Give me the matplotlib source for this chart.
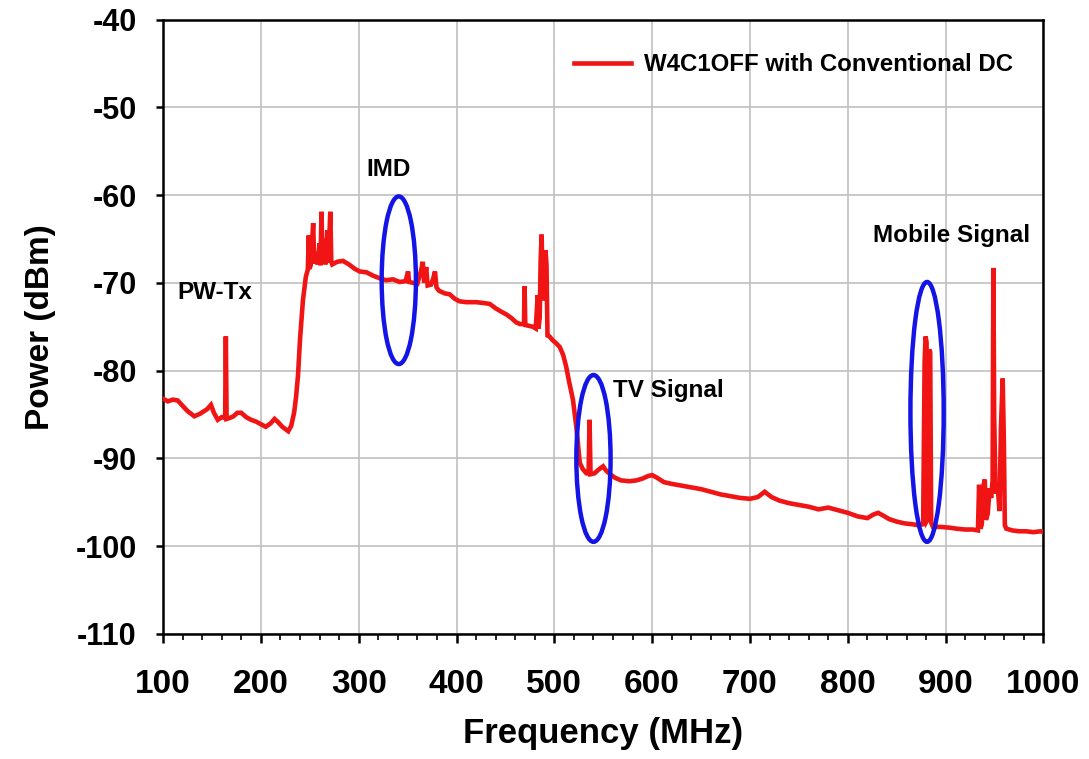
import matplotlib
matplotlib.use("Agg")
import matplotlib.pyplot as plt
from matplotlib.patches import Ellipse
from matplotlib.ticker import MultipleLocator

plt.rcParams['font.family'] = ['Liberation Sans', 'DejaVu Sans']
plt.rcParams['font.weight'] = 'bold'
plt.rcParams['axes.unicode_minus'] = False

# ---- data ----
freq_mhz = [100, 105, 110, 115, 120, 125, 132, 138, 145, 149, 152, 156, 160, 163.5, 164.2, 165,
            168, 172, 176, 180, 185, 190, 195, 200, 205, 210, 214, 217, 222, 228, 231, 234, 236,
            238, 240, 243, 246, 248, 249, 249.5, 251, 253.5, 254.5, 256, 258, 260, 261, 262, 263,
            265, 266, 268, 269, 271, 272, 273, 278, 284, 290, 296, 301, 308, 315, 322, 328, 335,
            342, 348, 350.5, 351.5, 356, 360, 364, 365.5, 367, 369, 370.5, 374, 376, 378, 379.5,
            382, 388, 393, 398, 403, 410, 420, 428, 434, 440, 446, 451, 456, 461, 465, 469, 469.6,
            470.3, 474, 478, 481, 483, 483.8, 485, 486, 487, 488, 489, 490, 491, 492, 493, 495, 498,
            502, 505.5, 509, 512, 515, 519, 522.5, 526, 529, 532.8, 535, 536, 537, 541, 545, 549.8,
            553, 557, 562, 568, 577, 584, 590, 596, 600, 605, 612, 620, 630, 640, 650, 660, 670,
            680, 690, 700, 708, 715, 722, 730, 740, 750, 760, 770, 780, 790, 800, 810, 820, 826,
            831, 836, 842, 850, 858, 866, 872, 877, 878.5, 879.5, 880.5, 881.3, 882.3, 883.2, 884.2,
            885.2, 887, 895, 905, 911, 920, 928, 933, 934.2, 935.6, 937, 938.5, 940, 941.2, 943, 945,
            946.5, 948, 948.8, 949.6, 951, 953, 955, 956.5, 958.3, 959.5, 960.5, 962, 968, 975, 982,
            990, 997, 1000]
power_dbm = [-83.2, -83.5, -83.3, -83.4, -84.0, -84.6, -85.2, -84.9, -84.4, -83.9, -84.8, -85.6,
             -85.3, -85.4, -76.1, -85.5, -85.4, -85.2, -84.8, -84.8, -85.3, -85.6, -85.8, -86.1,
             -86.4, -86.0, -85.5, -85.8, -86.4, -86.9, -86.3, -84.8, -83.0, -80.5, -76.5, -72.0,
             -69.3, -68.5, -64.6, -68.4, -68.0, -63.2, -67.8, -66.5, -67.9, -65.5, -68.0, -61.9,
             -67.8, -65.0, -67.9, -64.0, -67.7, -61.9, -67.6, -67.9, -67.6, -67.5, -67.9, -68.4,
             -68.7, -68.8, -69.2, -69.5, -69.7, -69.6, -69.9, -69.8, -68.7, -69.9, -70.0, -70.1,
             -68.5, -67.6, -70.0, -68.2, -70.3, -70.2, -69.6, -68.7, -70.5, -70.9, -71.2, -71.3,
             -71.8, -72.1, -72.2, -72.2, -72.3, -72.4, -72.9, -73.3, -73.6, -74.0, -74.5, -74.7,
             -74.7, -70.4, -74.8, -74.9, -75.0, -75.2, -71.4, -75.2, -74.0, -67.5, -64.5, -70.0,
             -66.8, -72.0, -66.3, -68.0, -76.0, -76.1, -76.5, -76.9, -77.3, -78.2, -79.5, -81.2,
             -83.3, -86.4, -90.5, -91.2, -91.7, -91.7, -85.6, -91.8, -91.7, -91.3, -90.9, -91.4,
             -91.8, -92.2, -92.5, -92.6, -92.5, -92.3, -92.0, -91.9, -92.2, -92.7, -92.9, -93.1,
             -93.3, -93.5, -93.8, -94.1, -94.3, -94.5, -94.6, -94.4, -93.8, -94.4, -94.8, -95.1,
             -95.3, -95.5, -95.8, -95.6, -95.9, -96.2, -96.6, -96.8, -96.4, -96.2, -96.5, -96.9,
             -97.2, -97.4, -97.5, -97.6, -97.5, -79.0, -76.1, -76.8, -97.0, -96.8, -77.6, -77.9,
             -97.3, -97.8, -97.8, -97.9, -98.0, -98.1, -98.1, -98.2, -93.0, -98.0, -97.5, -93.2,
             -92.4, -97.0, -96.3, -93.4, -94.5, -92.5, -68.3, -85.2, -94.0, -92.8, -96.0, -86.6,
             -80.9, -88.0, -97.6, -98.0, -98.2, -98.3, -98.3, -98.4, -98.3, -98.4]

series_label = "W4C1OFF with Conventional DC"
x_ticks = [100, 200, 300, 400, 500, 600, 700, 800, 900, 1000]
y_ticks = [-110, -100, -90, -80, -70, -60, -50, -40]

# annotations: (text, freq, power)
notes = [("PW-Tx", 153, -71.1), ("IMD", 331, -57.1),
         ("TV Signal", 617, -82.3), ("Mobile Signal", 906, -64.6)]
# ellipses: (center freq, center power, width MHz, height dB)
ellipses = [(341, -69.7, 35, 19.1), (540, -90.0, 35, 19.0), (881, -84.7, 34, 29.6)]

fig = plt.figure(figsize=(10.89, 7.59), dpi=100)
ax = fig.add_axes([0.1497, 0.1647, 0.8085, 0.8096])

ax.plot(freq_mhz, power_dbm, color='#f01414', lw=3.3, solid_joinstyle='miter',
        label=series_label, zorder=3)

for cx, cy, w, h in ellipses:
    ax.add_patch(Ellipse((cx, cy), w, h, fill=False, edgecolor='#1414e6', lw=3.2, zorder=4))

for txt, fx, py in notes:
    ax.text(fx, py, txt, ha='center', va='center', fontsize=17.5, fontweight='bold', color='black')

ax.set_xlim(100, 1000)
ax.set_ylim(-110, -40)
ax.set_xticks(x_ticks)
ax.set_yticks(y_ticks)
ax.xaxis.set_minor_locator(MultipleLocator(20))
ax.grid(True, which='major', color='#c0c0c0', lw=1.2, zorder=0)
ax.set_axisbelow(True)

for s in ax.spines.values():
    s.set_linewidth(1.8)
    s.set_color('black')

ax.tick_params(axis='x', which='major', direction='out', length=6.5, width=1.8,
               labelsize=24, pad=19)
ax.tick_params(axis='x', which='minor', direction='out', length=4, width=1.2)
ax.tick_params(axis='y', which='major', direction='out', length=5, width=1.8,
               labelsize=22, pad=14)
for lab in ax.get_xticklabels() + ax.get_yticklabels():
    lab.set_fontweight('bold')

ax.set_xlabel("Frequency (MHz)", fontsize=25, fontweight='bold', labelpad=12)
ax.set_ylabel("Power (dBm)", fontsize=24, fontweight='bold', labelpad=14)

leg = ax.legend(loc='center right', bbox_to_anchor=(0.966, 0.926), frameon=False,
                fontsize=17.3, handlelength=2.4, handletextpad=0.55,
                borderpad=0, borderaxespad=0)
for t in leg.get_texts():
    t.set_fontweight('bold')

fig.savefig("out.png", dpi=100)
